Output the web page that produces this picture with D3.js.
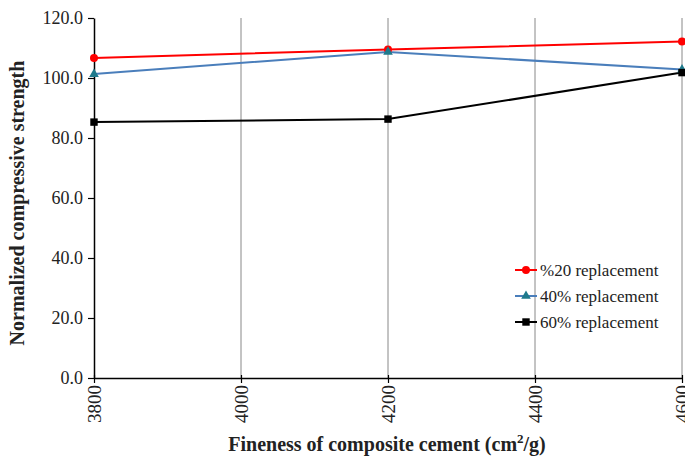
<!DOCTYPE html>
<html><head><meta charset="utf-8">
<script src="https://cdn.jsdelivr.net/npm/d3@7"></script>
<style>body{margin:0;background:#fff}svg{display:block;font-family:"Liberation Serif","DejaVu Serif",serif}</style>
</head><body><svg id="c" width="685" height="459"></svg>
<script>
const fineness = [3800, 4200, 4600];
const xTicks = [3800, 4000, 4200, 4400, 4600];
const yTicks = [0, 20, 40, 60, 80, 100, 120];
const rep20 = [106.7, 109.5, 112.2];
const rep40 = [101.3, 108.7, 102.8];
const rep60 = [85.3, 86.3, 101.8];
const seriesNames = ["%20 replacement", "40% replacement", "60% replacement"];
const seriesColors = ["#ff0000", "#4a7ebb", "#000000"];
const seriesValues = [rep20, rep40, rep60];
const seriesSymbols = ["circle", "triangle", "square"];

const svg = d3.select("#c");
const L = 94, R = 682, T = 18, B = 378;
const x = d3.scaleLinear().domain([3800, 4600]).range([L, R]);
const y = d3.scaleLinear().domain([0, 120]).range([B, T]);

// vertical grid
svg.append("g").selectAll("line").data(xTicks.slice(1)).join("line")
  .attr("x1", d => x(d)).attr("x2", d => x(d)).attr("y1", T).attr("y2", B)
  .attr("stroke", "#888").attr("stroke-width", 1);

// y axis
const ya = svg.append("g").attr("transform", `translate(${L},0)`)
  .call(d3.axisLeft(y).tickValues(yTicks).tickFormat(d3.format(".1f")).tickSize(6).tickSizeOuter(0));
ya.select(".domain").attr("stroke", "#000").attr("stroke-width", 1.5);
ya.selectAll(".tick line").attr("stroke", "#000").attr("stroke-width", 1.2);
ya.selectAll("text").attr("font-size", 18).attr("fill", "#222").attr("font-family", "Liberation Serif").attr("x", -11);

// x axis
const xa = svg.append("g").attr("transform", `translate(0,${B})`)
  .call(d3.axisBottom(x).tickValues(xTicks).tickFormat(d3.format("d")).tickSize(5).tickSizeOuter(0));
xa.select(".domain").attr("stroke", "#000").attr("stroke-width", 1.5);
xa.selectAll(".tick line").attr("stroke", "#000").attr("stroke-width", 1.2).attr("y1", -3);
xa.selectAll("text").attr("font-size", 19).attr("fill", "#222").attr("font-family", "Liberation Serif")
  .attr("transform", "rotate(-90)").attr("text-anchor", "end").attr("x", -7).attr("y", 0).attr("dy", "0.35em");

// lines
const line = d3.line().x((d, i) => x(fineness[i])).y(d => y(d));
seriesValues.forEach((vals, s) => {
  svg.append("path").datum(vals).attr("d", line).attr("fill", "none")
    .attr("stroke", seriesColors[s]).attr("stroke-width", 2);
});
function sym(s) {
  const t = seriesSymbols[s];
  return d3.symbol().type(t === "circle" ? d3.symbolCircle : t === "triangle" ? d3.symbolTriangle : d3.symbolSquare)
    .size(t === "circle" ? 50 : t === "triangle" ? 40 : 55)();
}
seriesValues.forEach((vals, s) => {
  svg.append("g").selectAll("path").data(vals).join("path")
    .attr("d", sym(s))
    .attr("transform", (d, i) => `translate(${x(fineness[i])},${y(d)})`)
    .attr("fill", seriesSymbols[s] === "triangle" ? "#1f7a8c" : seriesColors[s]);
});

// legend
const lg = svg.append("g");
seriesNames.forEach((n, s) => {
  const yy = 270 + s * 26;
  lg.append("line").attr("x1", 515).attr("x2", 537).attr("y1", yy).attr("y2", yy)
    .attr("stroke", seriesColors[s]).attr("stroke-width", 2);
  lg.append("path").attr("d", sym(s)).attr("transform", `translate(526,${yy})`)
    .attr("fill", seriesSymbols[s] === "triangle" ? "#1f7a8c" : seriesColors[s]);
  lg.append("text").attr("x", 540).attr("y", yy).attr("dy", "0.35em")
    .attr("font-size", 17).attr("fill", "#222").text(n);
});

// axis titles
const xt = svg.append("text").attr("x", 387).attr("y", 451).attr("text-anchor", "middle")
  .attr("font-size", 20).attr("font-weight", "bold").attr("fill", "#222");
xt.append("tspan").text("Fineness of composite cement (cm");
xt.append("tspan").attr("font-size", 13).attr("dy", -8).text("2");
xt.append("tspan").attr("dy", 8).text("/g)");

svg.append("text").attr("transform", "translate(24,203) rotate(-90)").attr("text-anchor", "middle")
  .attr("font-size", 20).attr("font-weight", "bold").attr("fill", "#222")
  .text("Normalized compressive strength");
</script></body></html>
